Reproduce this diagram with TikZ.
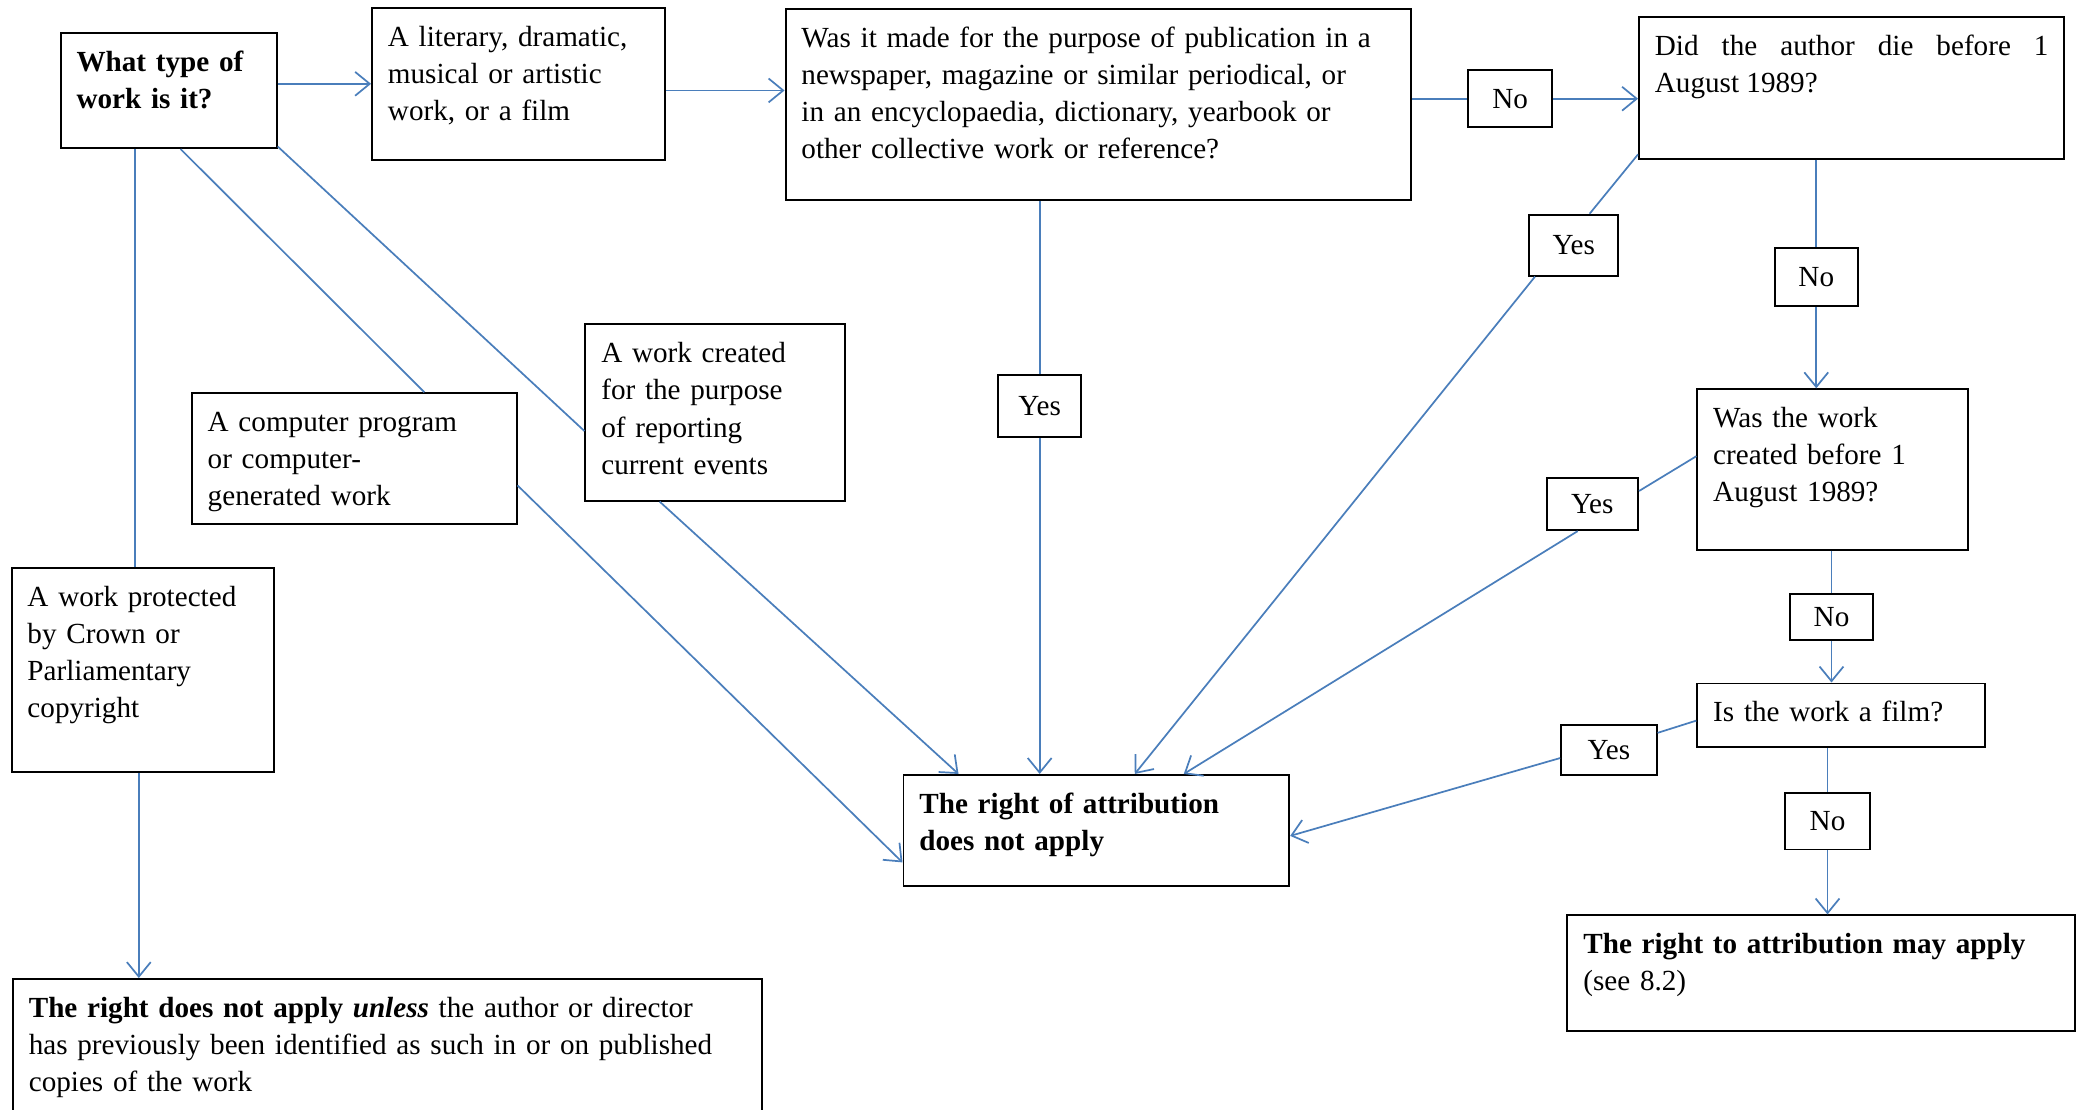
\documentclass[tikz,border=0pt]{standalone}
\usepackage{fontspec}
\setmainfont{Liberation Serif}
\usetikzlibrary{arrows.meta}

\definecolor{linkblue}{HTML}{4A7EBB}
\newcommand{\boxfont}{\fontsize{22}{28}\selectfont}
\hyphenpenalty=10000

\begin{document}
\begin{tikzpicture}[x=1pt,y=-1pt,
    every node/.style={font=\boxfont},
    box/.style={draw=black,line width=1.5pt,anchor=north west,align=left,
      inner xsep=12pt,inner ysep=11pt,text height=18pt},
    strong/.style={font=\boxfont\bfseries},
    answer/.style={draw=black,line width=1.5pt,inner sep=0pt},
    link/.style={draw=linkblue,line width=1.3pt},
    linkarrow/.style={link,-{Straight Barb[length=11pt,width=18pt]}}]

    \useasboundingbox (0,0) rectangle (1568,837);

    % question and outcome boxes
    \node[box,strong,text width=139pt,text depth=47pt] (type) at (45,24) {What type of\\work is it?};
    \node[box,text width=197pt,text depth=75pt] (literary) at (280,5) {A literary, dramatic,\\musical or artistic\\work, or a film};
    \node[box,text width=448pt,text depth=104pt] (periodical) at (592,6) {Was it made for the purpose of publication in a\\newspaper, magazine or similar periodical, or\\in an encyclopaedia, dictionary, yearbook or\\other collective work or reference?};
    \node[box,align=justify,text width=297pt,text depth=67pt] (died) at (1236,12) {Did the author die before 1\linebreak August 1989?};
    \node[box,text width=180pt,text depth=81pt] (created) at (1280,293) {Was the work\\created before 1\\August 1989?};
    \node[box,text width=193pt,text depth=8pt] (film) at (1280,515) {Is the work a film?};
    \node[box,text width=359pt,text depth=47pt] (mayapply) at (1182,690) {\textbf{The right to attribution may apply}\\(see 8.2)};
    \node[box,strong,text width=267pt,text depth=44pt] (noright) at (681,584) {The right of attribution\\does not apply};
    \node[box,text width=172pt,text depth=93pt] (events) at (441,244) {A work created\\for the purpose\\of reporting\\current events};
    \node[box,text width=221pt,text depth=59pt] (computer) at (144,296) {A computer program\\or computer-\\generated work};
    \node[box,text width=174pt,text depth=114pt] (crown) at (8,428) {A work protected\\by Crown or\\Parliamentary\\copyright};
    \node[box,text width=541pt,text depth=70pt] (unless) at (9,738) {\textbf{The right does not apply \textit{unless}} the author or director\\has previously been identified as such in or on published\\copies of the work};

    % yes / no answers
    \node[answer,minimum width=63pt,minimum height=43pt] (no1) at (1139.5,74.5) {No};
    \node[answer,minimum width=67pt,minimum height=46pt] (yes1) at (1187.5,185) {Yes};
    \node[answer,minimum width=63pt,minimum height=44pt] (no2) at (1370.5,209) {No};
    \node[answer,minimum width=69pt,minimum height=39pt] (yes2) at (1201.5,380.5) {Yes};
    \node[answer,minimum width=62pt,minimum height=35pt] (no3) at (1382,465.5) {No};
    \node[answer,minimum width=72pt,minimum height=38pt] (yes3) at (1214,566) {Yes};
    \node[answer,minimum width=64pt,minimum height=43pt] (no4) at (1379,619.5) {No};
    \node[answer,minimum width=63pt,minimum height=47pt] (yes4) at (784.5,306.5) {Yes};

    % connectors along the top
    \draw[linkarrow] (type.east |- literary.west) -- (literary.west);
    \draw[linkarrow] ([yshift=-5pt]literary.east) -- ([yshift=-5pt]literary.east -| periodical.west);
    \draw[link] (periodical.east |- no1.west) -- (no1.west);
    \draw[linkarrow] (no1.east) -- (no1.east -| died.west);

    % connectors from the type question
    \draw[link] ([xshift=-6pt]crown.north |- type.south) -- ([xshift=-6pt]crown.north);
    \draw[linkarrow] ([xshift=-3pt]crown.south) -- ([xshift=-3pt]crown.south |- unless.north);
    \draw[link] ([xshift=9pt]type.south) -- ([xshift=53pt]computer.north);
    \draw[link] ([yshift=2pt]type.south east) -- ([yshift=-14pt]events.west);
    \draw[linkarrow] ([yshift=-20pt]computer.east) -- ([yshift=-24pt]noright.west);
    \draw[linkarrow] ([xshift=-42pt]events.south) -- ([xshift=-104pt]noright.north);

    % yes branches into the outcome box
    \draw[link] (yes4.north |- periodical.south) -- (yes4.north);
    \draw[linkarrow] (yes4.south) -- (yes4.south |- noright.north);
    \draw[link] ([yshift=4pt]died.south west) -- ([xshift=12pt]yes1.north);
    \draw[linkarrow] ([xshift=5pt]yes1.south west) -- ([xshift=29pt]noright.north);
    \draw[link] ([yshift=10pt]created.west) -- ([yshift=10pt]yes2.east);
    \draw[linkarrow] ([xshift=-11pt]yes2.south) -- ([xshift=66pt]noright.north);
    \draw[link] ([yshift=-4pt]film.west) -- ([yshift=13pt]yes3.east);
    \draw[linkarrow] ([yshift=-6pt]yes3.west) -- ([yshift=-4pt]noright.east);

    % no branches down the right side
    \draw[link] (no2.north |- died.south) -- (no2.north);
    \draw[linkarrow] (no2.south) -- (no2.south |- created.north);
    \draw[link] (no3.north |- created.south) -- (no3.north);
    \draw[linkarrow] (no3.south) -- (no3.south |- film.north);
    \draw[link] (no4.north |- film.south) -- (no4.north);
    \draw[linkarrow] (no4.south) -- (no4.south |- mayapply.north);

\end{tikzpicture}
\end{document}
